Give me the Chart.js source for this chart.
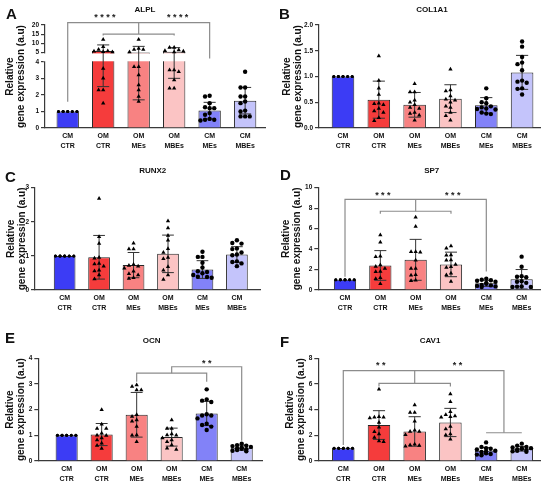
<!DOCTYPE html>
<html>
<head>
<meta charset="utf-8">
<script src="https://cdn.jsdelivr.net/npm/chart.js@4.4.1/dist/chart.umd.min.js"></script>
<style>
  html, body { margin: 0; padding: 0; background: #fff; }
  #fig { position: relative; width: 550px; height: 486px; }
  canvas { position: absolute; }
</style>
</head>
<body>
<div id="fig">
  <canvas id="cA" width="275" height="160" style="left:0;top:0"></canvas>
  <canvas id="cB" width="275" height="160" style="left:275px;top:0"></canvas>
  <canvas id="cC" width="275" height="160" style="left:0;top:160px"></canvas>
  <canvas id="cD" width="275" height="160" style="left:275px;top:160px"></canvas>
  <canvas id="cE" width="275" height="166" style="left:0;top:320px"></canvas>
  <canvas id="cF" width="275" height="166" style="left:275px;top:320px"></canvas>
</div>
<script>
// groups shown on every panel
const groups = [['CM', 'CTR'], ['OM', 'CTR'], ['OM', 'MEs'], ['OM', 'MBEs'], ['CM', 'MEs'], ['CM', 'MBEs']];
const barColors = ['#3c3cf5', '#f53c3c', '#f88282', '#fbc4c4', '#8282f8', '#c4c4fb'];

// ALPL (broken axis)
const alplMean = [1.0, 5.8, 5.0, 5.3, 1.05, 1.65];
const alplSd = [0, 3.3, 3.3, 2.3, 0.5, 0.8];
const alplPoints = [
  [1, 1, 1, 1, 1, 1, 1, 1, 1, 1, 1, 1],
  [12.1, 8.1, 6.6, 5.8, 5.6, 5.4, 5.2, 3.6, 3.0, 2.3, 2.3, 1.5],
  [12.1, 7.2, 6.6, 6.6, 5.2, 3.7, 3.7, 3.2, 2.6, 2.3, 1.9, 1.6],
  [7.7, 7.7, 6.3, 5.9, 5.6, 5.2, 3.5, 3.5, 3.4, 2.9, 2.4, 2.4],
  [1.9, 1.95, 1.5, 1.25, 1.2, 1.2, 0.9, 0.8, 0.55, 0.5, 0.45, 0.5],
  [3.4, 2.45, 2.45, 1.9, 1.9, 1.6, 1.5, 1.05, 1.0, 0.7, 0.7, 0.7]
];
const alplTicks = ['0', '1', '2', '3', '4', '5', '10', '15', '20'];

// COL1A1
const col1a1Mean = [1.0, 0.55, 0.45, 0.57, 0.44, 1.08];
const col1a1Sd = [0, 0.36, 0.24, 0.27, 0.15, 0.33];
const col1a1Points = [
  [1, 1, 1, 1, 1, 1, 1, 1, 1, 1, 1, 1],
  [1.40, 0.92, 0.77, 0.65, 0.48, 0.47, 0.45, 0.38, 0.33, 0.30, 0.20, 0.14],
  [0.86, 0.70, 0.70, 0.54, 0.50, 0.45, 0.40, 0.38, 0.30, 0.28, 0.25, 0.15],
  [1.14, 0.74, 0.72, 0.62, 0.56, 0.54, 0.50, 0.42, 0.40, 0.30, 0.24, 0.15],
  [0.77, 0.58, 0.50, 0.48, 0.42, 0.40, 0.38, 0.37, 0.36, 0.30, 0.28, 0.27],
  [1.68, 1.58, 1.38, 1.27, 1.24, 1.12, 0.92, 0.90, 0.88, 0.77, 0.76, 0.65]
];
const col1a1Ticks = ['0.0', '0.5', '1.0', '1.5', '2.0'];

// RUNX2
const runx2Mean = [1.0, 0.96, 0.73, 1.06, 0.60, 1.04];
const runx2Sd = [0, 0.64, 0.37, 0.55, 0.26, 0.23];
const runx2Points = [
  [1, 1, 1, 1, 1, 1, 1, 1, 1, 1, 1, 1],
  [2.68, 1.56, 1.36, 0.95, 0.93, 0.78, 0.76, 0.70, 0.58, 0.56, 0.44, 0.32],
  [1.37, 1.20, 1.20, 0.75, 0.72, 0.70, 0.64, 0.55, 0.48, 0.44, 0.36, 0.34],
  [2.02, 1.82, 1.60, 1.46, 1.21, 1.10, 0.95, 0.92, 0.68, 0.58, 0.44, 0.31],
  [1.12, 0.97, 0.97, 0.80, 0.66, 0.55, 0.53, 0.49, 0.44, 0.39, 0.38, 0.36],
  [1.46, 1.38, 1.36, 1.22, 1.20, 1.10, 1.04, 1.02, 0.84, 0.82, 0.78, 0.70]
];
const runx2Ticks = ['0', '1', '2', '3'];

// SP7
const sp7Mean = [1.0, 2.4, 2.95, 2.5, 0.65, 1.05];
const sp7Sd = [0, 1.45, 2.0, 1.2, 0.3, 0.95];
const sp7Points = [
  [1, 1, 1, 1, 1, 1, 1, 1, 1, 1, 1, 1],
  [5.37, 4.66, 3.3, 3.26, 2.3, 2.44, 2.1, 1.8, 1.79, 1.2, 1.1, 0.6],
  [7.1, 6.2, 3.75, 3.75, 3.7, 2.9, 2.1, 2.1, 1.5, 1.45, 0.95, 0.9],
  [4.3, 4.07, 3.4, 3.42, 2.9, 2.93, 2.5, 2.28, 2.2, 1.63, 1.47, 0.82],
  [1.1, 1.0, 0.95, 0.9, 0.8, 0.7, 0.6, 0.5, 0.45, 0.4, 0.35, 0.3],
  [3.26, 2.28, 1.35, 1.3, 1.25, 0.85, 0.8, 0.7, 0.35, 0.33, 0.3, 0.3]
];
const sp7Ticks = ['0', '2', '4', '6', '8', '10'];

// OCN
const ocnMean = [1.0, 1.03, 1.8, 0.93, 1.85, 0.52];
const ocnSd = [0, 0.43, 0.87, 0.35, 0.47, 0.1];
const ocnPoints = [
  [1, 1, 1, 1, 1, 1, 1, 1, 1, 1, 1, 1],
  [2.0, 1.43, 1.27, 1.27, 1.08, 1.0, 0.99, 0.9, 0.82, 0.69, 0.6, 0.49],
  [2.96, 2.9, 2.77, 2.77, 1.8, 1.73, 1.6, 1.55, 1.34, 1.01, 1.0, 0.75],
  [1.6, 1.27, 1.27, 1.05, 1.01, 1.0, 0.9, 0.82, 0.75, 0.62, 0.5, 0.45],
  [2.79, 2.4, 2.35, 2.3, 1.82, 1.77, 1.77, 1.66, 1.45, 1.4, 1.34, 1.21],
  [0.67, 0.62, 0.6, 0.58, 0.55, 0.53, 0.5, 0.48, 0.46, 0.43, 0.4, 0.38]
];
const ocnTicks = ['0', '1', '2', '3', '4'];

// CAV1
const cav1Mean = [1.0, 2.8, 2.3, 3.0, 0.8, 0.95];
const cav1Sd = [0, 1.12, 1.15, 1.1, 0.25, 0.18];
const cav1Points = [
  [1, 1, 1, 1, 1, 1, 1, 1, 1, 1, 1, 1],
  [5.58, 3.45, 3.4, 3.4, 3.35, 3.0, 2.62, 2.28, 2.1, 1.84, 1.55, 1.5],
  [4.36, 3.78, 3.77, 3.1, 2.4, 2.3, 2.29, 2.05, 1.3, 1.25, 1.2, 1.15],
  [5.22, 4.62, 3.6, 3.5, 3.84, 3.45, 3.4, 2.5, 2.68, 2.1, 2.03, 1.69],
  [1.45, 1.1, 1.0, 0.95, 0.9, 0.8, 0.75, 0.7, 0.6, 0.55, 0.5, 0.45],
  [1.35, 1.2, 1.1, 1.05, 1.0, 0.98, 0.95, 0.9, 0.85, 0.8, 0.75, 0.72]
];
const cav1Ticks = ['0', '2', '4', '6', '8'];

const FONT = "'Liberation Sans', Arial, Helvetica, sans-serif";
const INK = '#111';
const AXIS = '#3a3a3a';
const BRACKET = '#8c8c8c';

// y scale with a gap between brk.lo and brk.hi (GraphPad style broken axis)
function brokenDecimal(v, max, b) {
  if (v <= b.lo) return v / b.lo * b.loFrac;
  if (v <= b.hi) return b.loFrac + (v - b.lo) / (b.hi - b.lo) * b.gapFrac;
  return b.loFrac + b.gapFrac + (v - b.hi) / (max - b.hi) * (1 - b.loFrac - b.gapFrac);
}

class BrokenLinearScale extends Chart.LinearScale {
  getPixelForValue(value) {
    if (value === null || value === undefined || isNaN(value)) return NaN;
    return this.getPixelForDecimal(brokenDecimal(value, this.max, this.options.brk));
  }
  getValueForPixel(pixel) {
    const d = this.getDecimalForPixel(pixel);
    const b = this.options.brk;
    if (d <= b.loFrac) return d / b.loFrac * b.lo;
    if (d <= b.loFrac + b.gapFrac) return b.lo + (d - b.loFrac) / b.gapFrac * (b.hi - b.lo);
    return b.hi + (d - b.loFrac - b.gapFrac) / (1 - b.loFrac - b.gapFrac) * (this.max - b.hi);
  }
}
BrokenLinearScale.id = 'brokenLinear';
BrokenLinearScale.defaults = Chart.LinearScale.defaults;
Chart.register(BrokenLinearScale);

const panels = [
  { id: 'cA', letter: 'A', title: 'ALPL', mean: alplMean, sd: alplSd, pts: alplPoints, ticks: alplTicks,
    box: { l: 45, t: 25, r: 265, b: 128 }, xr: [-0.64, 5.56], letterPos: [6, 19.3], titlePos: [145, 9.5], yPad: 5,
    brk: { lo: 4, hi: 5, loFrac: 0.643, gapFrac: 0.091 },
    brackets: [
      [[0, 1.58], [0, 21.3], [4, 21.3], [4, 4.36]],
      [[2, 21.3], [2, 15.05]],
      [[1, 14.2], [1, 15.05], [3, 15.05], [3, 14.2]]
    ],
    stars: [[1.05, 25.3, '****'], [3.1, 25.3, '****']] },
  { id: 'cB', letter: 'B', title: 'COL1A1', mean: col1a1Mean, sd: col1a1Sd, pts: col1a1Points, ticks: col1a1Ticks,
    box: { l: 44, t: 25, r: 265, b: 128 }, xr: [-0.67, 5.5], letterPos: [4, 18.5], titlePos: [157, 9.5], yPad: 6.8,
    brackets: [], stars: [] },
  { id: 'cC', letter: 'C', title: 'RUNX2', mean: runx2Mean, sd: runx2Sd, pts: runx2Points, ticks: runx2Ticks,
    box: { l: 35, t: 27.7, r: 260, b: 130 }, xr: [-0.86, 5.67], letterPos: [5, 21.7], titlePos: [152.7, 11], yPad: 6,
    brackets: [], stars: [] },
  { id: 'cD', letter: 'D', title: 'SP7', mean: sp7Mean, sd: sp7Sd, pts: sp7Points, ticks: sp7Ticks,
    box: { l: 43.3, t: 27.7, r: 265, b: 130 }, xr: [-0.756, 5.52], letterPos: [5, 20], titlePos: [156.7, 11], yPad: 5.5,
    brackets: [
      [[0, 1.3], [0, 8.86], [4, 8.86], [4, 1.8]],
      [[2, 8.86], [2, 7.7]],
      [[1, 7.45], [1, 7.7], [3, 7.7], [3, 7.45]]
    ],
    stars: [[1.07, 9.5, '***'], [3.05, 9.5, '***']] },
  { id: 'cE', letter: 'E', title: 'OCN', mean: ocnMean, sd: ocnSd, pts: ocnPoints, ticks: ocnTicks,
    box: { l: 38.3, t: 38.3, r: 262, b: 141 }, xr: [-0.81, 5.58], letterPos: [5, 23.3], titlePos: [151.7, 21], yPad: 5,
    brackets: [
      [[2, 3.09], [2, 3.42], [4, 3.42], [4, 3.09]],
      [[3, 3.42], [3, 3.67], [5, 3.67], [5, 0.79]]
    ],
    stars: [[4, 3.9, '**']] },
  { id: 'cF', letter: 'F', title: 'CAV1', mean: cav1Mean, sd: cav1Sd, pts: cav1Points, ticks: cav1Ticks,
    box: { l: 43.3, t: 38.3, r: 265, b: 141 }, xr: [-0.7, 5.51], letterPos: [5, 26.7], titlePos: [155, 21], yPad: 9.5,
    brackets: [
      [[0, 1.25], [0, 7.04], [4.5, 7.04], [4.5, 2.2]],
      [[4, 2.2], [5, 2.2]],
      [[2, 7.04], [2, 6.05]],
      [[1, 5.8], [1, 6.05], [3, 6.05], [3, 5.8]]
    ],
    stars: [[1.05, 7.6, '**'], [3.2, 7.6, '**']] }
];

// spread the dots of one group sideways so they do not sit on top of each other
function swarm(vals, toPx) {
  const cand = [0, -4.6, 4.6, -9.2, 9.2, -2.3, 2.3, -6.9, 6.9, -11, 11];
  const order = vals.map((v, i) => i).sort((a, b) => vals[b] - vals[a]);
  const placed = [];
  const offs = new Array(vals.length).fill(0);
  order.forEach(i => {
    const py = toPx(vals[i]);
    let best = 0, bestHits = Infinity;
    for (const c of cand) {
      let hits = 0;
      placed.forEach(q => { if (Math.abs(q.py - py) < 4.6 && Math.abs(q.px - c) < 4.6) hits++; });
      if (hits < bestHits) { best = c; bestHits = hits; if (hits === 0) break; }
    }
    placed.push({ px: best, py });
    offs[i] = best;
  });
  return offs;
}

function decor(p) {
  return {
    id: 'decor',
    afterDatasetDraw(chart, args) {
      if (args.index !== 0) return;
      const { ctx, chartArea: a, scales: { y } } = chart;
      if (p.brk) {
        const y4 = y.getPixelForValue(p.brk.lo);
        const y5 = y.getPixelForValue(p.brk.hi);
        ctx.save();
        ctx.fillStyle = '#fff';
        ctx.fillRect(a.left - 2, y5 + 1, a.right - a.left + 2, y4 - y5 - 1.5);
        ctx.restore();
      }
      const meta = chart.getDatasetMeta(0);
      ctx.save();
      ctx.strokeStyle = '#333';
      ctx.lineWidth = 1;
      meta.data.forEach((bar, i) => {
        const sd = p.sd[i];
        if (!sd) return;
        const m = p.mean[i];
        const top = y.getPixelForValue(m + sd);
        const bot = y.getPixelForValue(Math.max(m - sd, 0));
        const cw = bar.width * 0.27;
        ctx.beginPath();
        ctx.moveTo(bar.x, top); ctx.lineTo(bar.x, bot);
        ctx.moveTo(bar.x - cw, top); ctx.lineTo(bar.x + cw, top);
        ctx.moveTo(bar.x - cw, bot); ctx.lineTo(bar.x + cw, bot);
        ctx.stroke();
      });
      ctx.restore();
    },
    afterDraw(chart) {
      const { ctx, scales: { x, y } } = chart;
      ctx.save();
      ctx.strokeStyle = BRACKET;
      ctx.lineWidth = 1.2;
      p.brackets.forEach(line => {
        ctx.beginPath();
        line.forEach(([u, v], k) => {
          const px = x.getPixelForValue(u), py = y.getPixelForValue(v);
          if (k) ctx.lineTo(px, py); else ctx.moveTo(px, py);
        });
        ctx.stroke();
      });
      ctx.fillStyle = '#222';
      ctx.font = 'bold 9px ' + FONT;
      ctx.textAlign = 'center';
      ctx.textBaseline = 'alphabetic';
      ctx.letterSpacing = '2.4px';
      p.stars.forEach(([u, v, s]) => {
        ctx.fillText(s, x.getPixelForValue(u) + 1.2, y.getPixelForValue(v) + 5);
      });
      ctx.letterSpacing = '0px';
      ctx.fillStyle = INK;
      ctx.font = 'bold 8px ' + FONT;
      ctx.textBaseline = 'middle';
      ctx.fillText(p.title, p.titlePos[0], p.titlePos[1]);
      ctx.font = 'bold 15px ' + FONT;
      ctx.textAlign = 'left';
      ctx.textBaseline = 'alphabetic';
      ctx.fillText(p.letter, p.letterPos[0], p.letterPos[1]);
      ctx.restore();
    }
  };
}

function makeChart(p) {
  const canvas = document.getElementById(p.id);
  const W = canvas.width, H = canvas.height;
  const yMax = parseFloat(p.ticks[p.ticks.length - 1]);
  const plotH = p.box.b - p.box.t;
  const spacing = (p.box.r - p.box.l) / (p.xr[1] - p.xr[0]);
  const toPx = p.brk ? v => brokenDecimal(v, yMax, p.brk) * plotH : v => v / yMax * plotH;

  const dots = [];
  p.pts.forEach((vals, g) => {
    const offs = swarm(vals, toPx);
    vals.forEach((v, k) => dots.push({ x: g + offs[k] / spacing, y: v, g }));
  });

  new Chart(canvas, {
    type: 'bar',
    data: {
      datasets: [
        {
          type: 'bar',
          order: 2,
          data: p.mean.map((m, i) => ({ x: i, y: m })),
          backgroundColor: barColors,
          borderColor: '#262626',
          borderWidth: 1,
          barPercentage: 0.63,
          categoryPercentage: 1
        },
        {
          type: 'scatter',
          order: 1,
          data: dots,
          pointStyle: ctx => (ctx.raw.g >= 1 && ctx.raw.g <= 3 ? 'triangle' : 'circle'),
          pointRadius: ctx => (ctx.raw.g === 0 ? 1.5 : ctx.raw.g <= 3 ? 2.5 : 2.2),
          backgroundColor: '#000',
          borderColor: '#000',
          borderWidth: 0
        }
      ]
    },
    options: {
      responsive: false,
      animation: false,
      events: [],
      layout: { padding: { left: 0, top: p.box.t, right: W - p.box.r, bottom: 0 } },
      plugins: { legend: { display: false }, tooltip: { enabled: false }, title: { display: false } },
      scales: {
        x: {
          type: 'linear',
          min: p.xr[0],
          max: p.xr[1],
          offset: false,
          afterBuildTicks: s => { s.ticks = groups.map((g, i) => ({ value: i })); },
          afterFit: s => { s.height = H - p.box.b; },
          grid: { display: false, drawTicks: false },
          border: { display: true, color: AXIS, width: 1.2 },
          ticks: {
            callback: v => groups[v],
            color: INK,
            padding: 4,
            maxRotation: 0,
            autoSkip: false,
            font: { family: FONT, size: 7, weight: 'bold', lineHeight: 1.3 }
          }
        },
        y: {
          type: p.brk ? 'brokenLinear' : 'linear',
          min: 0,
          max: yMax,
          brk: p.brk,
          afterBuildTicks: s => { s.ticks = p.ticks.map(t => ({ value: parseFloat(t) })); },
          afterFit: s => { s.width = p.box.l; },
          grid: { display: true, drawOnChartArea: false, drawTicks: true, tickLength: 4, color: AXIS, lineWidth: 1.2 },
          border: { display: true, color: AXIS, width: 1.2 },
          ticks: {
            callback: (v, i) => p.ticks[i],
            color: INK,
            padding: 2,
            font: { family: FONT, size: 6.5, weight: 'bold' }
          },
          title: {
            display: true,
            text: ['Relative', 'gene expression (a.u)'],
            color: INK,
            padding: { top: p.yPad, bottom: 0 },
            font: { family: FONT, size: 10, weight: 'bold', lineHeight: 1.1 }
          }
        }
      }
    },
    plugins: [decor(p)]
  });
}

panels.forEach(makeChart);
</script>
</body>
</html>
